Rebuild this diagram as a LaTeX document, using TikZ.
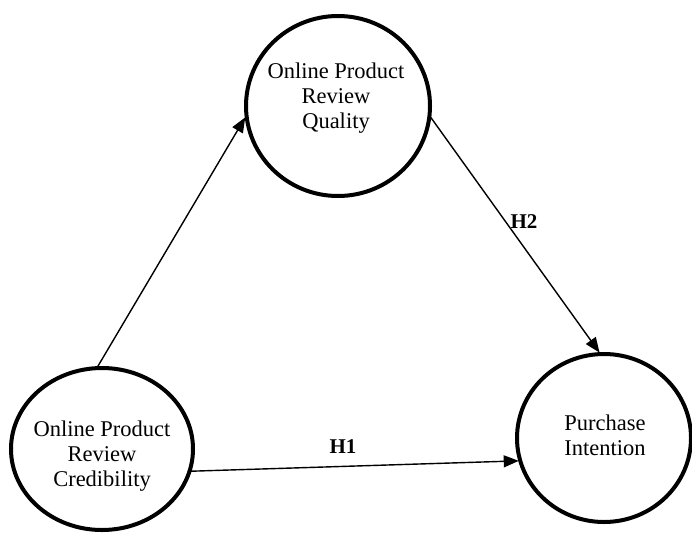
\documentclass[tikz,border=0pt]{standalone}
\usepackage{fontspec}
\setmainfont{Liberation Serif}
\usetikzlibrary{shapes.geometric,arrows.meta}
\begin{document}
\begin{tikzpicture}[x=1pt,y=-1pt,
  construct/.style={ellipse,draw,line width=4pt,inner sep=-20pt,outer sep=1.5pt},
  txt/.style={align=center,font=\fontsize{22.5}{25}\selectfont,inner sep=0pt},
  hyp/.style={font=\fontsize{21}{24}\selectfont\bfseries,inner sep=0pt},
  link/.style={line width=1.4pt,-{Triangle[length=15pt,width=12pt]}}]
\useasboundingbox (0,0) rectangle (692,533);
\node[construct,minimum width=184pt,minimum height=180pt] (qual) at (338,106) {};
\node[construct,minimum width=182pt,minimum height=162pt] (cred) at (102,449) {};
\node[construct,minimum width=174pt,minimum height=168pt] (purch) at (604,438) {};
\node[txt] (qualt) at (336,98) {Online Product\\Review\\Quality};
\node[txt] (credt) at (102,456) {Online Product\\Review\\Credibility};
\node[txt] (purcht) at (605,435) {Purchase\\Intention};
\draw[link] (cred.93) -- (qual.187);
\draw[link] (qual.-7) -- (purch.93);
\draw[link] (cred.-14) -- (purch.195);
\node[hyp] (h2) at (524,222) {H2};
\node[hyp] (h1) at (343,447) {H1};
\end{tikzpicture}
\end{document}
